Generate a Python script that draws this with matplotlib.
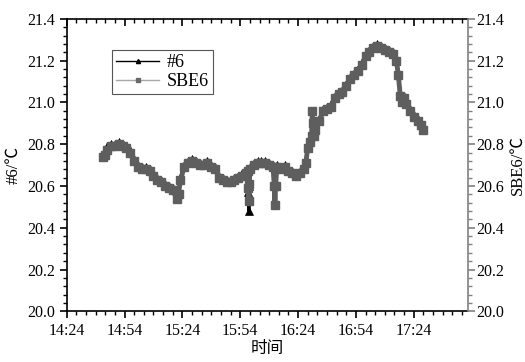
import matplotlib
matplotlib.use('Agg')
import matplotlib.pyplot as plt
import matplotlib.dates as mdates
from matplotlib.ticker import MultipleLocator
from matplotlib.lines import Line2D
from matplotlib.markers import TICKDOWN
import pandas as pd

plt.rcParams['font.family'] = ['Liberation Serif', 'Noto Sans CJK SC']

# sample times (same clock for both sensors)
times = [
    "14:43", "14:44", "14:45", "14:47", "14:49", "14:51", "14:53", "14:55",
    "14:57", "14:59", "15:01", "15:03", "15:05", "15:07", "15:09", "15:11",
    "15:13", "15:15", "15:17", "15:19", "15:21", "15:22", "15:23", "15:25",
    "15:27", "15:29", "15:31", "15:33", "15:35", "15:37", "15:39", "15:41",
    "15:43", "15:45", "15:47", "15:49", "15:51", "15:53", "15:55", "15:57",
    "15:58", "15:58:15", "15:58:30", "15:58:45", "15:59", "16:01", "16:03",
    "16:05", "16:07", "16:09", "16:11", "16:11:40", "16:12", "16:12:20",
    "16:13", "16:15", "16:17", "16:19", "16:21", "16:23", "16:25", "16:27",
    "16:28", "16:29", "16:30", "16:31", "16:31:20", "16:31:40", "16:32",
    "16:33", "16:35", "16:37", "16:39", "16:41", "16:43", "16:45", "16:47",
    "16:49", "16:51", "16:53", "16:55", "16:57", "16:59", "17:01", "17:03",
    "17:05", "17:07", "17:09", "17:11", "17:13", "17:15", "17:16", "17:17",
    "17:18", "17:19", "17:20", "17:22", "17:24", "17:26", "17:28", "17:29",
]

# SBE6 temperature (degC)
sbe6 = [
    20.74, 20.75, 20.77, 20.79, 20.79, 20.80, 20.79, 20.78,
    20.76, 20.72, 20.69, 20.68, 20.68, 20.67, 20.65, 20.63,
    20.62, 20.60, 20.59, 20.58, 20.54, 20.56, 20.63, 20.69,
    20.71, 20.72, 20.71, 20.70, 20.70, 20.71, 20.69, 20.68,
    20.64, 20.63, 20.62, 20.62, 20.63, 20.64, 20.65, 20.66,
    20.67, 20.59, 20.53, 20.61, 20.68, 20.70, 20.71,
    20.71, 20.71, 20.70, 20.69, 20.60, 20.51, 20.60,
    20.69, 20.68, 20.69, 20.67, 20.66, 20.65, 20.66, 20.68,
    20.71, 20.78, 20.81, 20.84, 20.96, 20.90, 20.84,
    20.87, 20.91, 20.96, 20.97, 20.98, 21.02, 21.04, 21.05,
    21.08, 21.11, 21.13, 21.15, 21.18, 21.22, 21.24, 21.26,
    21.27, 21.26, 21.25, 21.24, 21.23, 21.20, 21.13, 21.03,
    21.00, 21.02, 20.99, 20.96, 20.93, 20.91, 20.89, 20.87,
]

# #6 temperature (degC)
t6 = [
    20.75, 20.76, 20.79, 20.80, 20.80, 20.81, 20.80, 20.79,
    20.77, 20.73, 20.70, 20.69, 20.69, 20.68, 20.66, 20.64,
    20.63, 20.61, 20.60, 20.59, 20.55, 20.57, 20.64, 20.70,
    20.72, 20.73, 20.72, 20.71, 20.71, 20.72, 20.70, 20.69,
    20.65, 20.64, 20.63, 20.63, 20.64, 20.65, 20.66, 20.67,
    20.68, 20.57, 20.48, 20.60, 20.69, 20.71, 20.72,
    20.72, 20.72, 20.71, 20.70, 20.61, 20.52, 20.61,
    20.70, 20.69, 20.70, 20.68, 20.67, 20.66, 20.67, 20.69,
    20.72, 20.79, 20.82, 20.85, 20.86, 20.86, 20.85,
    20.88, 20.92, 20.97, 20.98, 20.99, 21.03, 21.05, 21.06,
    21.09, 21.12, 21.14, 21.16, 21.19, 21.23, 21.25, 21.27,
    21.28, 21.27, 21.26, 21.25, 21.24, 21.21, 21.14, 21.04,
    21.01, 21.03, 21.00, 20.97, 20.94, 20.92, 20.90, 20.88,
]

t = pd.to_datetime(["2000-01-01 " + s for s in times], format='mixed')
x0 = pd.Timestamp("2000-01-01 14:24")
x1 = pd.Timestamp("2000-01-01 17:52")

fig = plt.figure(figsize=(5.25, 3.62), dpi=100)
ax = fig.add_axes([0.127, 0.14, 0.764, 0.808])

# thick ribbon look: dense markers on a wide line
ax.plot(t, t6, color='black', linewidth=2.2, marker='^', markersize=5.5,
        markeredgewidth=0.5, zorder=2)
ax.plot(t, sbe6, color='#5e5e5e', linewidth=3.5, marker='s', markersize=6,
        markerfacecolor='#5e5e5e', markeredgecolor='#5e5e5e', zorder=3)

ax.set_xlim(x0, x1)
ax.set_ylim(20.0, 21.4)
ax.xaxis.set_major_locator(mdates.MinuteLocator(byminute=[24, 54]))
ax.xaxis.set_minor_locator(mdates.MinuteLocator(byminute=range(4, 60, 5)))
ax.xaxis.set_major_formatter(mdates.DateFormatter('%H:%M'))
ax.yaxis.set_major_locator(MultipleLocator(0.2))
ax.yaxis.set_minor_locator(MultipleLocator(0.04))
ax.yaxis.set_major_formatter(plt.FormatStrFormatter('%.1f'))

ax.tick_params(axis='x', which='both', top=False, direction='out', labelsize=11.5)
ax.tick_params(axis='x', which='major', length=5, width=1.2)
ax.tick_params(axis='x', which='minor', length=3, width=1)
ax.tick_params(axis='y', which='major', length=5, width=1.2, labelsize=11.5)
ax.tick_params(axis='y', which='minor', length=3, width=1)
for s in ['left', 'bottom', 'top']:
    ax.spines[s].set_linewidth(1.2)
ax.spines['right'].set_visible(False)

# inward ticks along the top edge, at the bottom axis tick positions
top_tf = ax.get_xaxis_transform()
major_pos = ax.get_xticks()
minor_pos = ax.get_xticks(minor=True)
ax.plot(major_pos, [1.0] * len(major_pos), linestyle='none', marker=TICKDOWN,
        markersize=5, markeredgewidth=1.2, color='black', transform=top_tf,
        clip_on=False, zorder=5)
ax.plot(minor_pos, [1.0] * len(minor_pos), linestyle='none', marker=TICKDOWN,
        markersize=3, markeredgewidth=1.0, color='black', transform=top_tf,
        clip_on=False, zorder=5)

ax.set_xlabel('时间', fontsize=12, labelpad=1)
ax.set_ylabel('#6/℃', fontsize=12, labelpad=4)

# right axis (SBE6), grey spine
ax2 = ax.twinx()
ax2.set_ylim(20.0, 21.4)
ax2.yaxis.set_major_locator(MultipleLocator(0.2))
ax2.yaxis.set_minor_locator(MultipleLocator(0.04))
ax2.yaxis.set_major_formatter(plt.FormatStrFormatter('%.1f'))
ax2.spines['right'].set_color('#808080')
ax2.spines['right'].set_linewidth(1.2)
for s in ['left', 'bottom', 'top']:
    ax2.spines[s].set_visible(False)
ax2.tick_params(axis='y', which='major', length=5, width=1.2, color='#808080',
                labelsize=11.5, pad=1)
ax2.tick_params(axis='y', which='minor', length=3, width=1, color='#808080')
ax2.set_ylabel('SBE6/℃', fontsize=12, labelpad=4)

handles = [
    Line2D([], [], color='black', linewidth=1.0, marker='^', markersize=3),
    Line2D([], [], color='#a8a8a8', linewidth=1.0, marker='s', markersize=2.5,
           markerfacecolor='#6a6a6a', markeredgecolor='#6a6a6a'),
]
leg = ax2.legend(handles, ['#6', 'SBE6'], loc='upper left',
                 bbox_to_anchor=(0.112, 0.895), fontsize=13,
                 handlelength=2.4, fancybox=False,
                 edgecolor='#555555', framealpha=1, borderpad=0.25,
                 labelspacing=0.1, handletextpad=0.4, borderaxespad=0)
leg.get_frame().set_linewidth(0.8)

fig.savefig('out.png', dpi=100)
